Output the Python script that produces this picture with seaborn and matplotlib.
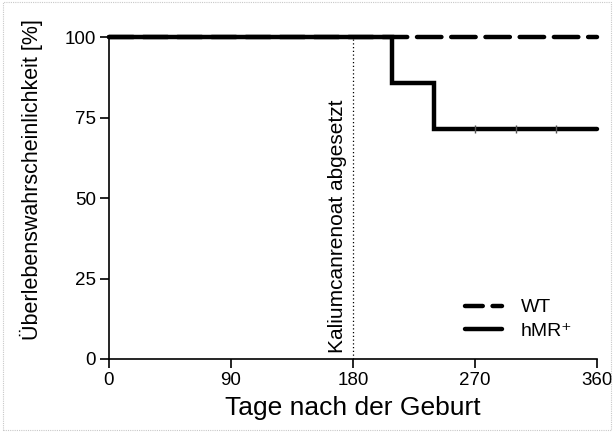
import matplotlib
matplotlib.use("Agg")
import matplotlib.pyplot as plt
import seaborn as sns
import pandas as pd
from matplotlib.lines import Line2D
from matplotlib.patches import Rectangle

sns.set_style("ticks")
plt.rcParams['font.family'] = ['Liberation Sans', 'DejaVu Sans']
plt.rcParams['text.color'] = 'black'
plt.rcParams['axes.labelcolor'] = 'black'
plt.rcParams['xtick.color'] = 'black'
plt.rcParams['ytick.color'] = 'black'

# Data (Kaplan-Meier steps)
wt_days = [0, 360]
wt_surv = [100, 100]
hmr_days = [0, 209, 240, 360]
hmr_surv = [100, 85.7, 71.4, 71.4]
censor_days = [270, 300, 330]
censor_surv = [71.4, 71.4, 71.4]
x_ticks = [0, 90, 180, 270, 360]
y_ticks = [0, 25, 50, 75, 100]
stop_day = 180

df = pd.concat([
    pd.DataFrame({"Tage": wt_days, "Surv": wt_surv, "Gruppe": "WT"}),
    pd.DataFrame({"Tage": hmr_days, "Surv": hmr_surv, "Gruppe": "hMR⁺"}),
])

fig = plt.figure(figsize=(6.14, 4.32), dpi=100)
ax = fig.add_axes([0.1775, 0.169, 0.7945, 0.745])

lw = 3.2
sns.lineplot(data=df[df.Gruppe == "WT"], x="Tage", y="Surv", ax=ax, color="black",
             linewidth=lw, drawstyle="steps-post", estimator=None, clip_on=False,
             dashes=False, legend=False, linestyle=(0, (5.5, 2.2)), dash_capstyle="round")
sns.lineplot(data=df[df.Gruppe == "hMR⁺"], x="Tage", y="Surv", ax=ax, color="black",
             linewidth=lw, drawstyle="steps-post", estimator=None, clip_on=False,
             legend=False, solid_capstyle="round", solid_joinstyle="miter")
ax.scatter(censor_days, censor_surv, marker="|", s=30, color="#555555", linewidths=1, zorder=5)

ax.plot([stop_day, stop_day], [0, 100], linestyle=(0, (1, 2)), color="black", linewidth=0.9)
ax.text(stop_day - 4, 2, "Kaliumcanrenoat abgesetzt", rotation=90, ha="right", va="bottom",
        fontsize=15)

ax.set_xlim(0, 360)
ax.set_ylim(0, 100)
ax.set_xticks(x_ticks)
ax.set_yticks(y_ticks)
ax.tick_params(axis="both", labelsize=13.5, length=6.5, width=1.2, color="black",
               direction="out", pad=3)
for s in ["left", "bottom"]:
    ax.spines[s].set_linewidth(1.2)
    ax.spines[s].set_color("black")
sns.despine(ax=ax)
ax.set_xlabel("Tage nach der Geburt", fontsize=19, labelpad=5)
ax.set_ylabel("Überlebenswahrscheinlichkeit [%]", fontsize=15.5)
ax.yaxis.set_label_coords(-0.135, 0.556)

handles = [
    Line2D([0], [0], color="black", linewidth=lw, linestyle=(0, (4, 2.2)), dash_capstyle="round"),
    Line2D([0], [0], color="black", linewidth=lw),
]
ax.legend(handles, ["WT", "hMR⁺"], loc="lower right", bbox_to_anchor=(0.985, 0.005),
          frameon=False, fontsize=14, handlelength=1.9, handletextpad=0.95, labelspacing=0.3)

fig.add_artist(Rectangle((0.005, 0.005), 0.99, 0.99, transform=fig.transFigure, fill=False,
                         edgecolor="#c8c8c8", linestyle=(0, (1, 1)), linewidth=0.8))

fig.savefig("out.png", dpi=100)
